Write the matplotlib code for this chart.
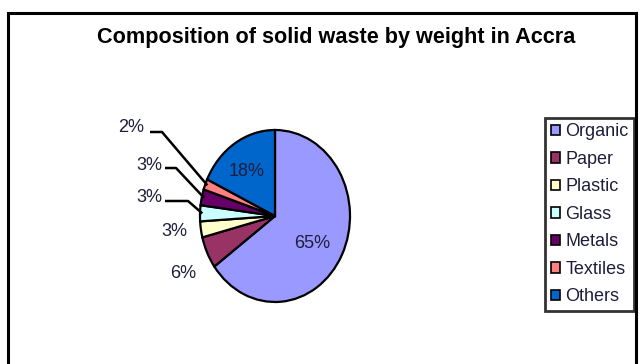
import numpy as np
import matplotlib
matplotlib.use("Agg")
import matplotlib.pyplot as plt
from matplotlib.patches import Patch, Rectangle

plt.rcParams['font.family'] = ['Liberation Sans', 'DejaVu Sans']

categories = ["Organic", "Paper", "Plastic", "Glass", "Metals", "Textiles", "Others"]
values = [65, 6, 3, 3, 3, 2, 18]
colors = ["#9999FF", "#993366", "#FFFFCC", "#CCFFFF", "#660066", "#FF8080", "#0066CC"]
title = "Composition of solid waste by weight in Accra"

W, H = 641, 364
fig = plt.figure(figsize=(W / 100, H / 100), dpi=100)
fig.patch.set_facecolor("white")

# outer border
fig.patches.append(Rectangle((8 / W, -0.2), 628 / W, (H - 13) / H + 0.2,
                             transform=fig.transFigure, fill=False,
                             edgecolor="black", lw=2.2, zorder=0))

# pie axes (pie is slightly elliptical in the reference)
cx, cy, rx, ry = 275, 216, 75, 86
ax = fig.add_axes([(cx - rx) / W, (H - cy - ry) / H, 2 * rx / W, 2 * ry / H])
wedges, _ = ax.pie(values, colors=colors, startangle=90, counterclock=False,
                   wedgeprops=dict(edgecolor="black", linewidth=1.6))
ax.set_aspect("auto")
ax.set_xlim(-1, 1)
ax.set_ylim(-1, 1)

def px2d(px, py):
    return ((px - cx) / rx, (cy - py) / ry)

total = sum(values)
cum = np.cumsum([0] + values)
mids = [90 - 360 * (cum[i] + cum[i + 1]) / 2 / total for i in range(len(values))]

labels = [f"{v}%" for v in values]
# label placement (pixel coords) ; inside labels for big slices
label_pos = {
    0: (312, 243),
    1: (183, 274),
    2: (174, 232),
    3: (149, 198),
    4: (149, 165),
    5: (131, 127),
    6: (247, 171),
}
text_color = "#1e1e3c"
for i, lab in enumerate(labels):
    x, y = px2d(*label_pos[i])
    ax.text(x, y, lab, ha="center", va="center", fontsize=13, color=text_color)

# leader lines for small slices
leaders = {
    5: [(150, 132), (162, 132)],
    4: [(165, 168), (176, 168)],
    3: [(165, 201), (188, 201)],
}
for i, pts in leaders.items():
    a = np.deg2rad(mids[i])
    ex, ey = np.cos(a) * 0.97, np.sin(a) * 0.97
    xs = [px2d(*p)[0] for p in pts] + [ex]
    ys = [px2d(*p)[1] for p in pts] + [ey]
    ax.plot(xs, ys, color="black", lw=1.8, clip_on=False, solid_capstyle="butt")

fig.text(336 / W, 1 - 37 / H, title, ha="center", va="center",
         fontsize=15.6, fontweight="bold", color="black")

handles = [Patch(facecolor=c, edgecolor="black", lw=1.2) for c in colors]
leg = fig.legend(handles, categories, loc="upper right",
                 bbox_to_anchor=(634 / W, 1 - 118 / H), borderaxespad=0,
                 fontsize=13, handlelength=0.5, handleheight=0.5,
                 handletextpad=0.3, labelspacing=0.58, borderpad=0.3,
                 fancybox=False, frameon=True)
leg.get_frame().set_edgecolor("black")
leg.get_frame().set_linewidth(2)
for t in leg.get_texts():
    t.set_color("#1e1e3c")

fig.savefig("out.png", dpi=100)
